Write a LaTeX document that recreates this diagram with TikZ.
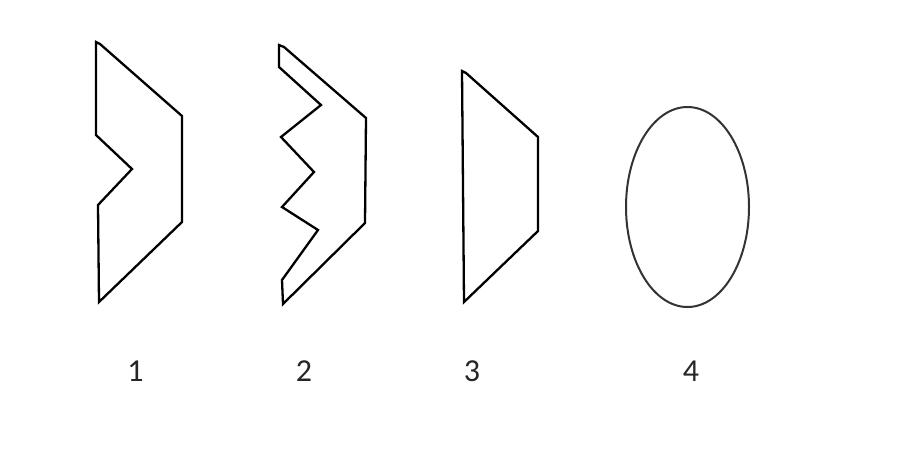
\documentclass[tikz,border=0pt]{standalone}
\usepackage{fontspec}
\setmainfont{Carlito}
\usetikzlibrary{shapes.geometric, positioning}

\begin{document}
\begin{tikzpicture}[
    x=1pt, y=-1pt,
    outline/.style={draw, line width=2.3pt, line join=miter},
    numlabel/.style={font=\fontsize{32}{36}\selectfont, text=black!85,
                     inner sep=0pt, anchor=base}
  ]
  \useasboundingbox (0,0) rectangle (897,451);

  % Shape 1: arrow with one notch
  \draw[outline] (96,42) -- (100,44) -- (182,116) -- (182,222) -- (99,302)
    -- (98,205) -- (132,169) -- (96,135) -- cycle;

  % Shape 2: arrow with zigzag edge
  \draw[outline] (279,45) -- (284,47) -- (366,118) -- (365,223) -- (283,304)
    -- (282,280) -- (318,230) -- (282,207) -- (314,172) -- (281,137)
    -- (321,105) -- (279,67) -- cycle;

  % Shape 3: trapezoid
  \draw[outline] (462,71) -- (466,73) -- (538,137) -- (538,231) -- (464,302)
    -- cycle;

  % Shape 4: oval
  \node[ellipse, draw, line width=2pt, black!80, minimum width=123pt,
        minimum height=200pt, inner sep=0pt] (oval) at (687.5,207) {};

  % Numbers
  \node[numlabel] (n1) at (135.5,381) {1};
  \node[numlabel] (n2) at (304,381) {2};
  \node[numlabel] (n3) at (472,381) {3};
  \node[numlabel] (n4) at (691,381) {4};
\end{tikzpicture}
\end{document}
